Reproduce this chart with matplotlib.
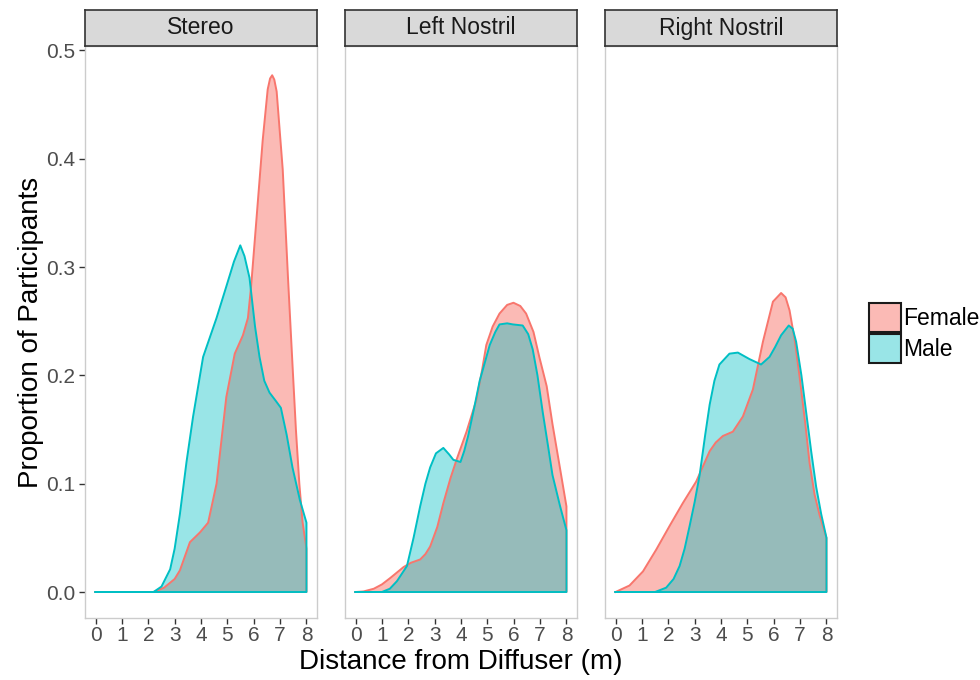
"""Density of participant distance from the diffuser, split by sex and nostril condition."""

import matplotlib.pyplot as plt
import numpy as np
from matplotlib.patches import Patch

plt.rcParams["font.family"] = ["Liberation Sans", "DejaVu Sans"]

FACETS = ["Stereo", "Left Nostril", "Right Nostril"]
GROUPS = ["Female", "Male"]

# density curves, read per facet (x in metres, y = proportion)
stereo_female_x = [0, 2.2, 2.6, 3.0, 3.2, 3.58, 3.96, 4.27, 4.59, 4.96, 5.28, 5.59, 5.78, 5.9,
                   6.09, 6.34, 6.53, 6.62, 6.7, 6.78, 6.87, 7.1, 7.3, 7.47, 7.6, 7.73, 7.85, 8.0]
stereo_female_y = [0, 0, 0.004, 0.012, 0.02, 0.046, 0.055, 0.064, 0.1, 0.18, 0.22, 0.237, 0.253, 0.282,
                   0.34, 0.417, 0.464, 0.474, 0.477, 0.473, 0.462, 0.39, 0.29, 0.21, 0.15, 0.10, 0.065, 0.04]
stereo_male_x = [0, 2.2, 2.5, 2.83, 3.0, 3.2, 3.45, 3.7, 4.08, 4.59, 4.96, 5.25, 5.49, 5.65, 5.84,
                 6.05, 6.22, 6.4, 6.6, 6.85, 7.03, 7.25, 7.47, 7.75, 8.0]
stereo_male_y = [0, 0, 0.005, 0.021, 0.04, 0.072, 0.12, 0.162, 0.217, 0.253, 0.282, 0.305, 0.32, 0.31, 0.29,
                 0.245, 0.217, 0.195, 0.184, 0.176, 0.17, 0.145, 0.115, 0.085, 0.064]

left_female_x = [0, 0.3, 0.69, 1.0, 1.32, 1.57, 1.82, 2.1, 2.45, 2.65, 2.83, 3.1, 3.33, 3.6, 3.83, 4.21,
                 4.58, 4.8, 4.96, 5.2, 5.46, 5.75, 5.99, 6.25, 6.47, 6.75, 6.97, 7.25, 7.47, 7.75, 8.0]
left_female_y = [0, 0.0005, 0.003, 0.007, 0.013, 0.018, 0.023, 0.027, 0.03, 0.035, 0.042, 0.06, 0.082, 0.105,
                 0.122, 0.148, 0.177, 0.205, 0.228, 0.245, 0.257, 0.265, 0.267, 0.264, 0.257, 0.24, 0.217,
                 0.19, 0.155, 0.115, 0.079]
left_male_x = [0, 1.0, 1.3, 1.57, 1.95, 2.2, 2.45, 2.65, 2.83, 3.05, 3.33, 3.55, 3.71, 3.98, 4.12, 4.27,
               4.5, 4.71, 5.09, 5.3, 5.46, 5.75, 5.97, 6.34, 6.55, 6.72, 6.9, 7.1, 7.3, 7.47, 7.75, 8.0]
left_male_y = [0, 0, 0.003, 0.01, 0.024, 0.05, 0.079, 0.1, 0.115, 0.128, 0.133, 0.127, 0.122, 0.12, 0.13,
               0.144, 0.17, 0.195, 0.228, 0.24, 0.247, 0.248, 0.247, 0.246, 0.238, 0.224, 0.2, 0.166,
               0.135, 0.108, 0.08, 0.057]

right_female_x = [0, 0.53, 1.04, 1.54, 2.05, 2.55, 3.06, 3.57, 3.8, 4.07, 4.45, 4.83, 5.21, 5.59, 5.97,
                  6.28, 6.45, 6.6, 6.8, 6.98, 7.2, 7.36, 7.55, 7.74, 8.0]
right_female_y = [0, 0.006, 0.019, 0.039, 0.061, 0.082, 0.102, 0.13, 0.138, 0.144, 0.148, 0.162, 0.187,
                  0.231, 0.268, 0.276, 0.272, 0.26, 0.232, 0.199, 0.155, 0.119, 0.09, 0.071, 0.05]
right_male_x = [0, 1.5, 1.92, 2.2, 2.43, 2.62, 2.81, 3.0, 3.19, 3.4, 3.57, 3.75, 3.94, 4.32, 4.64, 5.08,
                5.52, 5.84, 6.05, 6.28, 6.57, 6.72, 6.85, 7.05, 7.23, 7.42, 7.61, 7.8, 8.0]
right_male_y = [0, 0, 0.004, 0.012, 0.024, 0.04, 0.061, 0.083, 0.108, 0.145, 0.173, 0.195, 0.21, 0.22,
                0.221, 0.215, 0.21, 0.217, 0.226, 0.237, 0.246, 0.243, 0.231, 0.2, 0.166, 0.13, 0.097,
                0.072, 0.05]

CURVES = {
    "Stereo": [(stereo_female_x, stereo_female_y), (stereo_male_x, stereo_male_y)],
    "Left Nostril": [(left_female_x, left_female_y), (left_male_x, left_male_y)],
    "Right Nostril": [(right_female_x, right_female_y), (right_male_x, right_male_y)],
}

x_ticks = list(range(0, 9))
y_ticks = [0.0, 0.1, 0.2, 0.3, 0.4, 0.5]

LINE_COLORS = ["#F8766D", "#00BFC4"]
FILL_ALPHA = [0.5, 0.4]

W, H = 980, 680
PANEL_LEFTS = [85, 345, 605]
PANEL_W = 232
PANEL_TOP, PANEL_BOTTOM = 46, 618
STRIP_TOP = 10


def fig_rect(left, top, width, height):
    return [left / W, 1 - (top + height) / H, width / W, height / H]


def fill_rgba(hex_color, alpha):
    r, g, b = (int(hex_color[i:i + 2], 16) / 255 for i in (1, 3, 5))
    return (r, g, b, alpha)


fig = plt.figure(figsize=(W / 100, H / 100), dpi=100)

for i, facet in enumerate(FACETS):
    left = PANEL_LEFTS[i]
    ax = fig.add_axes(fig_rect(left, PANEL_TOP, PANEL_W, PANEL_BOTTOM - PANEL_TOP))
    for (xs, ys), color, alpha in zip(CURVES[facet], LINE_COLORS, FILL_ALPHA):
        xs = np.asarray(xs)
        ys = np.asarray(ys)
        ax.fill_between(xs, 0, ys, facecolor=fill_rgba(color, alpha), edgecolor="none")
        # closed outline, like a density polygon
        ox = np.concatenate([xs, [xs[-1], xs[0]]])
        oy = np.concatenate([ys, [0, 0]])
        ax.plot(ox, oy, color=color, lw=1.4, solid_joinstyle="round")

    ax.set_xlim(-0.4, 8.4)
    ax.set_ylim(-0.024, 0.504)
    ax.set_xticks(x_ticks)
    ax.set_xticklabels([str(t) for t in x_ticks])
    ax.tick_params(axis="x", colors="#333333", labelcolor="#4D4D4D", labelsize=15,
                   length=4, width=1, pad=2)
    if i == 0:
        ax.set_yticks(y_ticks)
        ax.set_yticklabels([f"{t:.1f}" for t in y_ticks])
        ax.tick_params(axis="y", colors="#333333", labelcolor="#4D4D4D", labelsize=15,
                       length=4, width=1, pad=3)
    else:
        ax.set_yticks([])
    for spine in ax.spines.values():
        spine.set_color("#CCCCCC")
        spine.set_linewidth(1)

    # facet strip
    sax = fig.add_axes(fig_rect(left, STRIP_TOP, PANEL_W, PANEL_TOP - STRIP_TOP))
    sax.set_facecolor("#D9D9D9")
    sax.set_xticks([])
    sax.set_yticks([])
    for spine in sax.spines.values():
        spine.set_color("#333333")
        spine.set_linewidth(1.2)
    sax.text(0.5, 0.5, facet, ha="center", va="center", fontsize=16.5, color="#1A1A1A",
             transform=sax.transAxes)

fig.text((PANEL_LEFTS[0] + PANEL_LEFTS[-1] + PANEL_W) / 2 / W, 1 - 662 / H,
         "Distance from Diffuser (m)", ha="center", va="center", fontsize=20)
fig.text(31 / W, 1 - (PANEL_TOP + PANEL_BOTTOM) / 2 / H, "Proportion of Participants",
         ha="center", va="center", rotation=90, fontsize=20)

handles = [
    Patch(facecolor=fill_rgba(c, a), edgecolor="#1A1A1A", linewidth=1.5)
    for c, a in zip(LINE_COLORS, FILL_ALPHA)
]
fig.legend(handles, GROUPS, loc="center left", bbox_to_anchor=(869 / W, 1 - 333 / H),
           frameon=False, fontsize=16.5, handlelength=1.4, handleheight=1.6,
           handletextpad=0.1, labelspacing=0.05, borderpad=0, borderaxespad=0)

fig.savefig("out.png", dpi=100)
